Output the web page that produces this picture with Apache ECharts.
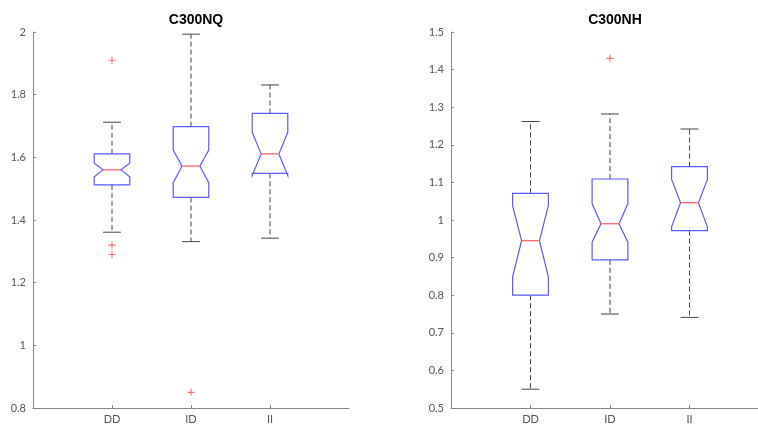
<!DOCTYPE html>
<html>
<head>
<meta charset="utf-8">
<script src="https://cdn.jsdelivr.net/npm/echarts@6/dist/echarts.min.js"></script>
<style>
  html, body { margin: 0; padding: 0; background: #fff; }
  #main { width: 758px; height: 427px; }
</style>
</head>
<body>
<div id="main"></div>
<script>
// categories
var cats = ['DD', 'ID', 'II']

// C300NQ box stats (per category)
var nqLow = [1.361, 1.331, 1.342]
var nqQ1 = [1.512, 1.472, 1.549]
var nqNotchLow = [1.538, 1.519, 1.542]
var nqMedian = [1.560, 1.572, 1.611]
var nqNotchHigh = [1.581, 1.623, 1.680]
var nqQ3 = [1.611, 1.698, 1.740]
var nqHigh = [1.712, 1.993, 1.831]
var nqOutliers = [[1, 1.91], [1, 1.32], [1, 1.29], [2, 0.85]]

// C300NH box stats
var nhLow = [0.550, 0.750, 0.741]
var nhQ1 = [0.800, 0.894, 0.972]
var nhNotchLow = [0.849, 0.941, 0.982]
var nhMedian = [0.945, 0.990, 1.046]
var nhNotchHigh = [1.038, 1.043, 1.108]
var nhQ3 = [1.071, 1.109, 1.142]
var nhHigh = [1.262, 1.282, 1.242]
var nhOutliers = [[2, 1.43]]

// y ticks
var nqTicks = { min: 0.8, max: 2, interval: 0.2 }
var nhTicks = { min: 0.5, max: 1.5, interval: 0.1 }

function buildBoxes(low, q1, nlo, med, nhi, q3, high) {
  var out = []
  for (var i = 0; i < cats.length; i++) {
    out.push([i + 1, low[i], q1[i], nlo[i], med[i], nhi[i], q3[i], high[i]])
  }
  return out
}

var BOX_COLOR = '#5a5aff'
var MED_COLOR = '#ff5a5a'
var WHISKER_COLOR = '#444'

function renderBox(params, api) {
  var x = api.value(0)
  var unit = api.size([1, 0])[0]
  var hw = 0.225 * unit
  var c = function (v) { return api.coord([x, v]) }
  var low = c(api.value(1)), q1 = c(api.value(2)), nlo = c(api.value(3))
  var med = c(api.value(4)), nhi = c(api.value(5)), q3 = c(api.value(6)), high = c(api.value(7))
  var cx = low[0]
  var pts = [
    [cx - hw, q1[1]], [cx - hw, nlo[1]], [cx - hw / 2, med[1]], [cx - hw, nhi[1]], [cx - hw, q3[1]],
    [cx + hw, q3[1]], [cx + hw, nhi[1]], [cx + hw / 2, med[1]], [cx + hw, nlo[1]], [cx + hw, q1[1]]
  ]
  var dash = { stroke: WHISKER_COLOR, lineWidth: 1, lineDash: [5, 3] }
  var solid = { stroke: WHISKER_COLOR, lineWidth: 1 }
  return {
    type: 'group',
    children: [
      { type: 'line', shape: { x1: cx, y1: q3[1], x2: cx, y2: high[1] }, style: dash },
      { type: 'line', shape: { x1: cx, y1: q1[1], x2: cx, y2: low[1] }, style: dash },
      { type: 'line', shape: { x1: cx - hw / 2, y1: high[1], x2: cx + hw / 2, y2: high[1] }, style: solid },
      { type: 'line', shape: { x1: cx - hw / 2, y1: low[1], x2: cx + hw / 2, y2: low[1] }, style: solid },
      { type: 'polygon', shape: { points: pts }, style: { fill: 'none', stroke: BOX_COLOR, lineWidth: 1.2 } },
      { type: 'line', shape: { x1: cx - hw / 2, y1: med[1], x2: cx + hw / 2, y2: med[1] }, style: { stroke: MED_COLOR, lineWidth: 1.2 } }
    ]
  }
}

var plusSymbol = 'path://M4.2,0H5.8V4.2H10V5.8H5.8V10H4.2V5.8H0V4.2H4.2Z'
var labelFont = { color: '#555', fontSize: 11, fontFamily: 'Lato' }

function xAxisFor(idx) {
  return {
    type: 'value', gridIndex: idx, min: 0, max: 4, interval: 1,
    axisLine: { lineStyle: { color: '#888' } },
    axisTick: { inside: true, length: 3, lineStyle: { color: '#888' }, customValues: [1, 2, 3] },
    axisLabel: Object.assign({ margin: 6, customValues: [1, 2, 3], formatter: function (v) { return cats[v - 1] || '' } }, labelFont),
    splitLine: { show: false }
  }
}

function yAxisFor(idx, t) {
  return {
    type: 'value', gridIndex: idx, min: t.min, max: t.max, interval: t.interval,
    axisLine: { show: true, lineStyle: { color: '#888' } },
    axisTick: { show: true, inside: true, length: 3, lineStyle: { color: '#888' } },
    axisLabel: Object.assign({ margin: 7, formatter: function (v) { return String(+v.toFixed(2)) } }, labelFont),
    splitLine: { show: false }
  }
}

var myChart = echarts.init(document.getElementById('main'))
var option = {
  backgroundColor: '#fff',
  animation: false,
  title: [
    { text: 'C300NQ', left: 191, top: 8, textAlign: 'center',
      textStyle: { fontSize: 14, fontWeight: 'bold', color: '#000', fontFamily: 'Liberation Sans' } },
    { text: 'C300NH', left: 610, top: 8, textAlign: 'center',
      textStyle: { fontSize: 14, fontWeight: 'bold', color: '#000', fontFamily: 'Liberation Sans' } }
  ],
  grid: [
    { left: 33, top: 32, width: 316, height: 376, outerBoundsMode: 'none' },
    { left: 451, top: 32, width: 318, height: 376, outerBoundsMode: 'none' }
  ],
  xAxis: [xAxisFor(0), xAxisFor(1)],
  yAxis: [yAxisFor(0, nqTicks), yAxisFor(1, nhTicks)],
  series: [
    {
      type: 'custom', xAxisIndex: 0, yAxisIndex: 0, renderItem: renderBox,
      encode: { x: 0, y: [1, 2, 3, 4, 5, 6, 7] },
      data: buildBoxes(nqLow, nqQ1, nqNotchLow, nqMedian, nqNotchHigh, nqQ3, nqHigh)
    },
    {
      type: 'custom', xAxisIndex: 1, yAxisIndex: 1, renderItem: renderBox,
      encode: { x: 0, y: [1, 2, 3, 4, 5, 6, 7] },
      data: buildBoxes(nhLow, nhQ1, nhNotchLow, nhMedian, nhNotchHigh, nhQ3, nhHigh)
    },
    {
      type: 'scatter', xAxisIndex: 0, yAxisIndex: 0, symbol: plusSymbol, symbolSize: 7,
      itemStyle: { color: '#ff4d4d' }, data: nqOutliers
    },
    {
      type: 'scatter', xAxisIndex: 1, yAxisIndex: 1, symbol: plusSymbol, symbolSize: 7,
      itemStyle: { color: '#ff4d4d' }, data: nhOutliers
    }
  ]
}
myChart.setOption(option)
</script>
</body>
</html>
